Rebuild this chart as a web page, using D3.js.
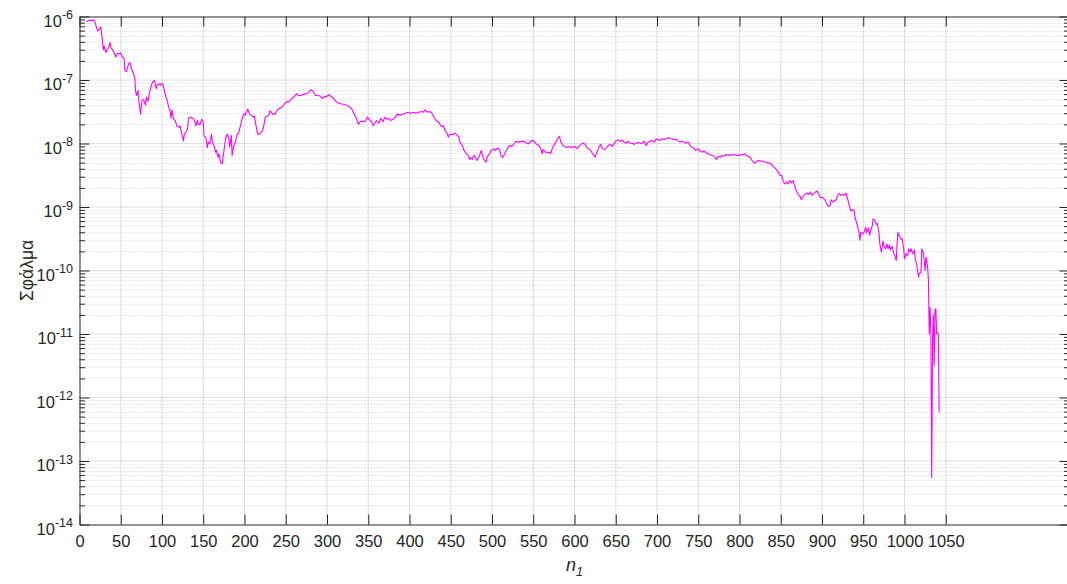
<!DOCTYPE html>
<html>
<head>
<meta charset="utf-8">
<script src="https://cdn.jsdelivr.net/npm/d3@7"></script>
<style>
  body { margin: 0; background: #fff; }
  svg { display: block; font-family: "Liberation Sans", Arial, sans-serif; }
  .axis path, .axis line { stroke: #262626; }
  .axis text { fill: #262626; font-size: 16.5px; font-family: "Liberation Sans", Arial, sans-serif; }
</style>
</head>
<body>
<div id="chart"></div>
<script>
// iteration index (n_1) and error
const iters = [
  8, 12, 18, 20, 22, 24, 26, 27, 29, 30, 32, 34, 35, 37, 38, 40, 42, 44, 46, 48,
  50, 52, 54, 55, 57, 59, 61, 63, 65, 67, 68, 69, 71, 72, 74, 75, 76, 78, 80, 81,
  83, 85, 87, 89, 91, 93, 94, 96, 98, 100, 101, 103, 105, 106, 108, 110, 111, 112, 114, 116,
  118, 120, 122, 124, 126, 127, 129, 131, 132, 135, 137, 139, 141, 143, 144, 146, 148, 150, 151, 153,
  155, 156, 158, 160, 161, 163, 165, 166, 168, 169, 171, 173, 174, 176, 177, 179, 181, 182, 184, 185,
  187, 189, 191, 193, 195, 197, 199, 201, 202, 204, 206, 208, 211, 212, 214, 216, 218, 220, 222, 224,
  225, 228, 230, 231, 234, 237, 240, 243, 246, 249, 252, 254, 257, 260, 263, 265, 268, 271, 275, 278,
  280, 283, 286, 288, 292, 294, 297, 299, 302, 305, 308, 311, 314, 318, 321, 324, 327, 330, 333, 335,
  338, 340, 343, 346, 349, 351, 354, 356, 358, 360, 363, 365, 368, 370, 373, 375, 377, 380, 383, 385,
  389, 392, 395, 398, 402, 405, 408, 411, 415, 417, 419, 422, 425, 427, 430, 432, 435, 437, 439, 441,
  443, 445, 447, 449, 452, 455, 457, 460, 461, 464, 466, 469, 471, 473, 474, 476, 478, 481, 482, 485,
  487, 489, 490, 493, 494, 497, 499, 502, 504, 507, 509, 511, 513, 515, 517, 520, 522, 524, 527, 529,
  532, 537, 540, 542, 545, 547, 550, 552, 554, 557, 559, 561, 562, 565, 567, 570, 571, 573, 575, 578,
  580, 582, 583, 586, 588, 591, 593, 596, 598, 600, 603, 605, 608, 610, 613, 615, 617, 620, 622, 625,
  626, 628, 630, 632, 633, 636, 638, 641, 643, 646, 648, 650, 653, 655, 658, 660, 663, 665, 667, 670,
  672, 675, 677, 680, 682, 684, 687, 689, 692, 694, 697, 699, 701, 704, 706, 709, 711, 714, 716, 718,
  721, 723, 726, 728, 730, 733, 735, 738, 740, 743, 745, 747, 750, 752, 755, 757, 760, 762, 764, 767,
  769, 772, 774, 777, 779, 781, 784, 786, 789, 791, 794, 796, 798, 801, 803, 806, 808, 811, 813, 815,
  818, 820, 823, 825, 827, 830, 832, 835, 837, 840, 842, 844, 847, 849, 851, 853, 855, 857, 859, 861,
  863, 865, 867, 869, 871, 873, 875, 877, 880, 882, 884, 886, 888, 890, 892, 894, 896, 898, 900, 902,
  904, 906, 908, 910, 911, 913, 915, 917, 919, 921, 923, 925, 927, 929, 931, 933, 935, 937, 939, 940,
  942, 944, 945, 946, 947, 950, 951, 953, 954, 956, 958, 959, 961, 962, 964, 966, 967, 969, 970, 972,
  974, 975, 977, 979, 980, 982, 983, 985, 987, 988, 990, 991, 992, 994, 996, 997, 999, 1000, 1002, 1004,
  1005, 1007, 1008, 1010, 1012, 1013, 1015, 1017, 1018, 1020, 1021, 1023, 1025, 1026, 1028, 1029, 1030, 1031, 1032, 1033,
  1034, 1035, 1036, 1037, 1038, 1039, 1040, 1041, 1042
];

const errs = [
  8.3e-7, 8.7e-7, 8.7e-7, 7.2e-7, 5.9e-7, 6.4e-7, 6.8e-7, 5.0e-7, 3.0e-7, 3.4e-7, 2.7e-7, 3.1e-7, 3.2e-7, 3.9e-7, 3.2e-7, 3.0e-7, 2.7e-7, 2.3e-7, 2.6e-7, 2.6e-7,
  2.7e-7, 2.3e-7, 2.2e-7, 1.41e-7, 1.36e-7, 1.7e-7, 1.9e-7, 1.5e-7, 1.3e-7, 1.1e-7, 6.8e-8, 5.7e-8, 6.8e-8, 4.5e-8, 2.9e-8, 4.0e-8, 4.9e-8, 4.8e-8, 4.0e-8, 5.4e-8,
  4.6e-8, 6.4e-8, 8.2e-8, 9.5e-8, 9.8e-8, 7.3e-8, 8.2e-8, 8.7e-8, 8.2e-8, 8.9e-8, 8.5e-8, 6.8e-8, 5.2e-8, 4.9e-8, 3.8e-8, 3.2e-8, 2.5e-8, 3.4e-8, 2.4e-8, 2.3e-8,
  1.9e-8, 1.8e-8, 1.9e-8, 1.4e-8, 1.1e-8, 1.4e-8, 1.5e-8, 1.7e-8, 2.5e-8, 2.6e-8, 2.5e-8, 2.4e-8, 1.9e-8, 2.3e-8, 2.0e-8, 2.0e-8, 2.4e-8, 2.2e-8, 1.3e-8, 1.26e-8,
  8.6e-9, 1.05e-8, 9.9e-9, 1.4e-8, 1.05e-8, 9.3e-9, 7.3e-9, 7.8e-9, 6.1e-9, 6.9e-9, 5.1e-9, 4.8e-9, 6.1e-9, 9.3e-9, 1.2e-8, 1.4e-8, 1.2e-8, 8.8e-9, 1.34e-8, 6.5e-9,
  9.3e-9, 1.05e-8, 1.4e-8, 1.45e-8, 1.9e-8, 2.45e-8, 2.9e-8, 2.8e-8, 3.1e-8, 3.5e-8, 2.9e-8, 2.8e-8, 2.6e-8, 2.7e-8, 1.9e-8, 1.4e-8, 1.39e-8, 1.5e-8, 1.6e-8, 2.1e-8,
  2.6e-8, 2.7e-8, 2.9e-8, 3.3e-8, 2.9e-8, 2.9e-8, 3.4e-8, 3.6e-8, 3.8e-8, 4.3e-8, 4.6e-8, 4.5e-8, 5.1e-8, 5.4e-8, 6.1e-8, 5.7e-8, 5.7e-8, 5.9e-8, 6.1e-8, 6.4e-8,
  7.0e-8, 6.7e-8, 5.7e-8, 5.7e-8, 5.6e-8, 5.1e-8, 5.5e-8, 5.4e-8, 5.9e-8, 5.5e-8, 5.1e-8, 4.6e-8, 4.3e-8, 4.2e-8, 4.1e-8, 4.0e-8, 3.8e-8, 3.5e-8, 2.9e-8, 2.6e-8,
  2.0e-8, 2.2e-8, 2.25e-8, 2.2e-8, 2.6e-8, 2.4e-8, 2.2e-8, 1.9e-8, 2.1e-8, 2.3e-8, 2.1e-8, 2.5e-8, 2.2e-8, 2.6e-8, 2.4e-8, 2.5e-8, 2.3e-8, 2.4e-8, 2.6e-8, 2.9e-8,
  2.8e-8, 2.9e-8, 3.0e-8, 3.1e-8, 3.0e-8, 3.1e-8, 3.0e-8, 3.1e-8, 3.2e-8, 3.1e-8, 3.4e-8, 3.1e-8, 3.2e-8, 3.0e-8, 2.6e-8, 2.3e-8, 2.2e-8, 2.0e-8, 1.85e-8, 1.9e-8,
  1.6e-8, 1.5e-8, 1.26e-8, 1.4e-8, 1.39e-8, 1.45e-8, 1.39e-8, 1.26e-8, 1.05e-8, 9.3e-9, 7.8e-9, 6.9e-9, 6.5e-9, 5.6e-9, 6.0e-9, 5.6e-9, 6.5e-9, 5.8e-9, 5.4e-9, 6.5e-9,
  7.8e-9, 6.1e-9, 5.6e-9, 5.1e-9, 6.1e-9, 6.9e-9, 7.8e-9, 8.3e-9, 7.8e-9, 8.5e-9, 8.0e-9, 6.5e-9, 6.0e-9, 6.7e-9, 7.6e-9, 8.8e-9, 9.3e-9, 9.0e-9, 9.9e-9, 1.08e-8,
  1.05e-8, 1.09e-8, 1.05e-8, 1.01e-8, 9.9e-9, 1.09e-8, 1.12e-8, 1.05e-8, 9.7e-9, 9.3e-9, 8.3e-9, 6.9e-9, 8.0e-9, 7.3e-9, 7.1e-9, 7.3e-9, 6.9e-9, 8.3e-9, 9.3e-9, 1.09e-8,
  1.23e-8, 1.29e-8, 1.09e-8, 9.3e-9, 9.0e-9, 8.6e-9, 9.0e-9, 8.6e-9, 8.8e-9, 9.0e-9, 8.3e-9, 9.0e-9, 9.7e-9, 1.01e-8, 9.7e-9, 8.6e-9, 8.3e-9, 7.6e-9, 6.9e-9, 6.1e-9,
  6.7e-9, 7.6e-9, 9.0e-9, 9.7e-9, 8.6e-9, 8.0e-9, 8.3e-9, 9.3e-9, 9.7e-9, 9.0e-9, 9.9e-9, 1.09e-8, 1.15e-8, 1.09e-8, 1.12e-8, 1.05e-8, 1.01e-8, 1.09e-8, 1.01e-8, 1.01e-8,
  9.7e-9, 1.01e-8, 1.05e-8, 9.9e-9, 1.01e-8, 1.09e-8, 9.3e-9, 1.05e-8, 1.09e-8, 1.12e-8, 1.05e-8, 1.19e-8, 1.15e-8, 1.12e-8, 1.19e-8, 1.15e-8, 1.19e-8, 1.23e-8, 1.19e-8, 1.19e-8,
  1.15e-8, 1.17e-8, 1.09e-8, 1.05e-8, 1.09e-8, 1.05e-8, 1.01e-8, 1.05e-8, 9.3e-9, 8.6e-9, 8.3e-9, 7.8e-9, 8.3e-9, 7.6e-9, 7.3e-9, 7.6e-9, 7.1e-9, 6.9e-9, 6.7e-9, 6.5e-9,
  6.3e-9, 5.6e-9, 6.3e-9, 6.1e-9, 6.5e-9, 6.3e-9, 6.7e-9, 6.5e-9, 6.7e-9, 6.5e-9, 6.7e-9, 6.5e-9, 6.5e-9, 6.7e-9, 6.5e-9, 6.9e-9, 6.5e-9, 6.3e-9, 6.0e-9, 5.4e-9,
  4.9e-9, 5.1e-9, 5.4e-9, 5.3e-9, 5.3e-9, 5.1e-9, 5.1e-9, 4.9e-9, 4.9e-9, 4.5e-9, 4.2e-9, 4.0e-9, 3.55e-9, 3.15e-9, 3.15e-9, 2.5e-9, 2.3e-9, 2.5e-9, 2.3e-9, 2.6e-9,
  2.4e-9, 2.6e-9, 2.1e-9, 1.8e-9, 1.58e-9, 1.5e-9, 1.3e-9, 1.47e-9, 1.62e-9, 1.66e-9, 1.58e-9, 1.72e-9, 1.52e-9, 1.62e-9, 1.72e-9, 1.78e-9, 1.62e-9, 1.4e-9, 1.43e-9, 1.35e-9,
  1.27e-9, 1.1e-9, 1.02e-9, 1.06e-9, 1.3e-9, 1.2e-9, 1.24e-9, 1.3e-9, 1.52e-9, 1.62e-9, 1.52e-9, 1.58e-9, 1.52e-9, 1.66e-9, 1.35e-9, 1.06e-9, 8.6e-10, 9.1e-10, 8.8e-10, 6.9e-10,
  5.6e-10, 4.5e-10, 3.8e-10, 3.0e-10, 4.0e-10, 3.8e-10, 4.0e-10, 4.8e-10, 3.9e-10, 4.7e-10, 3.6e-10, 4.3e-10, 5.1e-10, 6.5e-10, 6.2e-10, 5.3e-10, 5.5e-10, 4.0e-10, 2.7e-10, 1.95e-10,
  2.9e-10, 2.5e-10, 2.2e-10, 2.6e-10, 2.2e-10, 2.5e-10, 2.1e-10, 2.4e-10, 1.84e-10, 1.73e-10, 1.44e-10, 2.6e-10, 4.0e-10, 3.4e-10, 3.1e-10, 3.2e-10, 2.2e-10, 1.53e-10, 1.84e-10, 1.73e-10,
  2.2e-10, 1.95e-10, 2.2e-10, 1.84e-10, 2.1e-10, 1.53e-10, 1.2e-10, 7.9e-11, 8.9e-11, 9.5e-11, 2.2e-10, 1.84e-10, 1.0e-10, 1.63e-10, 1.13e-10, 7.0e-11, 1.0e-11, 2.6e-11, 1.0e-11, 5.5e-14,
  8.0e-12, 2.0e-11, 3.2e-12, 2.4e-11, 2.5e-11, 1.0e-11, 1.05e-11, 1.0e-11, 5.8e-13
];

const xTicks = d3.range(0, 1051, 50);
const yExps = [-14, -13, -12, -11, -10, -9, -8, -7, -6];

const W = 1067, H = 584;
const plotLeft = 79.5, plotRight = 1069.5, plotTop = 16.5, plotBottom = 524.5;

const data = iters.map((n, i) => ({ n: n, e: errs[i] }));

const svg = d3.select("#chart")
  .append("svg")
  .attr("width", W)
  .attr("height", H);

const x = d3.scaleLinear().domain([0, 1200]).range([plotLeft, plotRight]);
const y = d3.scaleLog().domain([1e-14, 1e-6]).range([plotBottom, plotTop]);

const majorY = yExps.map((k) => Math.pow(10, k));
const minorY = [];
yExps.slice(0, -1).forEach((k) => {
  for (let m = 2; m <= 9; m++) minorY.push(m * Math.pow(10, k));
});

// grid
const grid = svg.append("g");
grid.selectAll("line.minor-y")
  .data(minorY)
  .enter()
  .append("line")
  .attr("x1", plotLeft).attr("x2", plotRight)
  .attr("y1", (d) => Math.round(y(d)) + 0.5).attr("y2", (d) => Math.round(y(d)) + 0.5)
  .attr("stroke", "#262626")
  .attr("stroke-opacity", 0.2)
  .attr("stroke-dasharray", "1,2");

grid.selectAll("line.major-y")
  .data(majorY.slice(1, -1))
  .enter()
  .append("line")
  .attr("x1", plotLeft).attr("x2", plotRight)
  .attr("y1", (d) => y(d)).attr("y2", (d) => y(d))
  .attr("stroke", "#262626")
  .attr("stroke-opacity", 0.15);

grid.selectAll("line.major-x")
  .data(xTicks.slice(1))
  .enter()
  .append("line")
  .attr("x1", (d) => x(d)).attr("x2", (d) => x(d))
  .attr("y1", plotTop).attr("y2", plotBottom)
  .attr("stroke", "#262626")
  .attr("stroke-opacity", 0.15);

// the curve
const line = d3.line()
  .x((d) => x(d.n))
  .y((d) => y(d.e));

svg.append("path")
  .datum(data)
  .attr("fill", "none")
  .attr("stroke", "#ff00ff")
  .attr("stroke-width", 1.1)
  .attr("stroke-linejoin", "round")
  .attr("d", line);

// axes (ticks point inward)
svg.append("g")
  .attr("class", "axis")
  .attr("transform", `translate(0,${plotBottom})`)
  .call(d3.axisBottom(x).tickValues(xTicks).tickSizeInner(-10).tickSizeOuter(0).tickPadding(11).tickFormat(d3.format("d")));

svg.append("g")
  .attr("class", "axis")
  .attr("transform", `translate(0,${plotTop})`)
  .call(d3.axisTop(x).tickValues(xTicks).tickSizeInner(-10).tickSizeOuter(0).tickFormat(""));

svg.append("g")
  .attr("class", "axis")
  .attr("transform", `translate(${plotLeft},0)`)
  .call(d3.axisLeft(y).tickValues(majorY).tickSizeInner(-10).tickSizeOuter(0).tickFormat(""));

svg.append("g")
  .attr("class", "axis")
  .attr("transform", `translate(${plotLeft},0)`)
  .call(d3.axisLeft(y).tickValues(minorY).tickSizeInner(-5.5).tickSizeOuter(0).tickFormat(""))
  .select(".domain").remove();

svg.append("g")
  .attr("class", "axis")
  .attr("transform", `translate(${plotRight},0)`)
  .call(d3.axisRight(y).tickValues(majorY).tickSizeInner(-10).tickSizeOuter(0).tickFormat(""));

svg.append("g")
  .attr("class", "axis")
  .attr("transform", `translate(${plotRight},0)`)
  .call(d3.axisRight(y).tickValues(minorY).tickSizeInner(-5.5).tickSizeOuter(0).tickFormat(""))
  .select(".domain").remove();

// y tick labels as 10^k
const yLabels = svg.append("g")
  .selectAll("text")
  .data(yExps)
  .enter()
  .append("text")
  .attr("x", 73)
  .attr("y", (k) => y(Math.pow(10, k)) + 10)
  .attr("text-anchor", "end")
  .attr("fill", "#262626")
  .style("font-size", "16.5px");

yLabels.append("tspan").text("10");
yLabels.append("tspan")
  .attr("dy", -7.5)
  .style("font-size", "12.5px")
  .text((k) => String(k));

// axis titles
svg.append("text")
  .attr("transform", `translate(33,${(plotTop + plotBottom) / 2}) rotate(-90)`)
  .attr("text-anchor", "middle")
  .attr("fill", "#262626")
  .style("font-size", "17.5px")
  .text("Σφάλμα");

const xt = svg.append("text")
  .attr("x", (plotLeft + plotRight) / 2)
  .attr("y", 571)
  .attr("text-anchor", "middle")
  .attr("fill", "#262626")
  .style("font-size", "18px")
  .style("font-style", "italic");
xt.append("tspan").text("n");
xt.append("tspan").attr("dy", 5).style("font-size", "12.5px").text("1");
</script>
</body>
</html>
